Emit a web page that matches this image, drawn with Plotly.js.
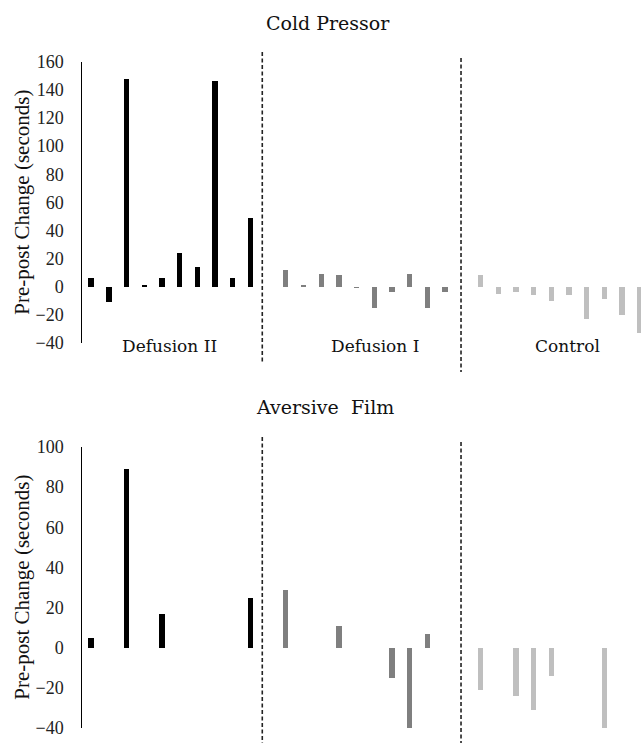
<!DOCTYPE html>
<html><head><meta charset="utf-8">
<script src="https://cdn.plot.ly/plotly-3.0.1.min.js"></script>
<style>html,body{margin:0;padding:0;background:#fff;overflow:hidden}#chart{width:641px;height:743px}</style>
</head><body><div id="chart"></div>
<script>
// ---- data ----
const groups = ['Defusion II', 'Defusion I', 'Control'];
const coldDefusion2 = [6, -11, 148, 1, 6, 24, 14, 146, 6, 49];
const coldDefusion1 = [12, 1, 9, 8, -1, -15, -4, 9, -15, -4];
const coldControl   = [8, -5, -4, -6, -10, -6, -23, -9, -20, -33];
const filmDefusion2 = [5, 0, 89, 0, 17, 0, 0, 0, 0, 25];
const filmDefusion1 = [29, 0, 0, 11, 0, 0, -15, -40, 7, 0];
const filmControl   = [-21, 0, -24, -31, -14, 0, 0, -40, 0, 0];
const coldTicks = [-40, -20, 0, 20, 40, 60, 80, 100, 120, 140, 160];
const filmTicks = [-40, -20, 0, 20, 40, 60, 80, 100];
const panelTitles = ['Cold Pressor', 'Aversive\u00a0 Film'];
const yTitle = 'Pre-post Change (seconds)';

// ---- styling / layout ----
const W = 641, H = 743;
const px = p => p / W;
const py = p => 1 - p / H;
const colors = ['#000000', '#7f7f7f', '#bfbfbf'];
const slotsPerGroup = 11; // 10 participants + 1 gap slot
const serifA = 'Times New Roman';
const serifB = 'DejaVu Serif';

function groupTraces(seriesList, xa, ya) {
  return seriesList.map((vals, g) => ({
    type: 'bar',
    x: vals.map((v, i) => g * slotsPerGroup + i),
    y: vals,
    width: 0.3,
    marker: {color: colors[g], line: {width: 0}},
    xaxis: xa, yaxis: ya,
    hoverinfo: 'skip', showlegend: false
  }));
}

const data = [
  ...groupTraces([coldDefusion2, coldDefusion1, coldControl], 'x', 'y'),
  ...groupTraces([filmDefusion2, filmDefusion1, filmControl], 'x2', 'y2')
];

const xRange = [-0.5, 31.07];
const xDomain = [px(82.3), 1];
const yCommon = {
  showline: true, linecolor: '#000', linewidth: 1,
  zeroline: false, showgrid: false, ticks: '',
  ticklabelstandoff: 14,
  tickfont: {family: serifA, size: 18, color: '#222'},
  fixedrange: true
};
const xCommon = {visible: false, range: xRange, domain: xDomain, fixedrange: true};

const dashLine = (x, y0, y1, xr) => ({
  type: 'line', xref: xr, yref: 'paper', x0: x, x1: x, y0: py(y0), y1: py(y1),
  line: {color: '#222', width: 1.6, dash: '4px,2.5px'}
});

const ann = (text, x, y, size, font, extra) => Object.assign({
  text: text, xref: 'paper', yref: 'paper', x: px(x), y: py(y),
  xanchor: 'center', yanchor: 'middle', showarrow: false,
  font: {family: font, size: size, color: '#111'}
}, extra || {});

const layout = {
  width: W, height: H,
  margin: {l: 0, r: 0, t: 0, b: 0},
  paper_bgcolor: '#fff', plot_bgcolor: 'rgba(0,0,0,0)',
  bargap: 0, barmode: 'overlay',
  xaxis: Object.assign({anchor: 'y'}, xCommon),
  xaxis2: Object.assign({anchor: 'y2'}, xCommon),
  yaxis: Object.assign({anchor: 'x', domain: [py(343), py(61.7)], range: [-40, 160], tickvals: coldTicks}, yCommon),
  yaxis2: Object.assign({anchor: 'x2', domain: [py(728), py(447)], range: [-40, 100], tickvals: filmTicks}, yCommon),
  shapes: [
    dashLine(9.67, 52, 363, 'x'), dashLine(20.9, 58, 372, 'x'),
    dashLine(9.67, 437, 745, 'x2'), dashLine(20.9, 442, 745, 'x2')
  ],
  annotations: [
    ann(panelTitles[0], 328, 23, 19, serifB),
    ann(panelTitles[1], 325, 407, 19, serifB),
    ann(groups[0], 169.5, 346, 17, serifB),
    ann(groups[1], 375, 346, 17, serifB),
    ann(groups[2], 567, 346, 17, serifB),
    ann(yTitle, 21.7, 202, 21, serifA, {textangle: -90}),
    ann(yTitle, 21.7, 587, 21, serifA, {textangle: -90})
  ]
};

Plotly.newPlot('chart', data, layout, {displayModeBar: false, staticPlot: true});
</script>
</body></html>
